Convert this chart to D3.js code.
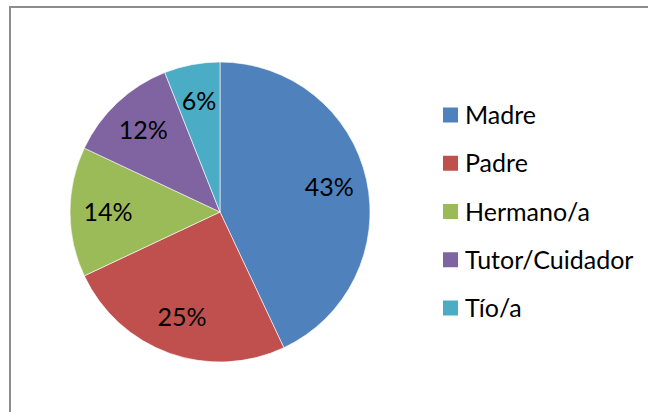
<!DOCTYPE html>
<html>
<head>
<meta charset="utf-8">
<script src="https://cdn.jsdelivr.net/npm/d3@7"></script>
<style>
  html, body { margin: 0; padding: 0; background: #fff; }
  svg { display: block; }
</style>
</head>
<body>
<div id="chart"></div>
<script>
// categories and shares (percent)
const categories = ["Madre", "Padre", "Hermano/a", "Tutor/Cuidador", "Tío/a"];
const shares = [43, 25, 14, 12, 6];
const colors = ["#4f81bd", "#c0504d", "#9bbb59", "#8064a2", "#4bacc6"];

const W = 648, H = 412;
const cx = 220, cy = 212, radius = 150;
const fontFamily = "Lato, 'Open Sans', sans-serif";

const svg = d3.select("#chart").append("svg")
  .attr("width", W)
  .attr("height", H);

// chart area frame
svg.append("rect")
  .attr("x", 10).attr("y", 7)
  .attr("width", W + 20).attr("height", H + 20)
  .attr("fill", "#fff")
  .attr("stroke", "#8c8c8c")
  .attr("stroke-width", 2);

const rows = categories.map((c, i) => ({ name: c, value: shares[i], color: colors[i] }));

const pie = d3.pie()
  .sort(null)
  .value(d => d.value);

const arc = d3.arc().innerRadius(0).outerRadius(radius);
const labelArc = d3.arc().innerRadius(112).outerRadius(112);

const g = svg.append("g")
  .attr("transform", `translate(${cx},${cy})`);

const arcs = pie(rows);

g.selectAll("path")
  .data(arcs)
  .enter().append("path")
  .attr("d", arc)
  .attr("fill", d => d.data.color)
  .attr("stroke", "#fff")
  .attr("stroke-width", 0.6);

g.selectAll("text.pct")
  .data(arcs)
  .enter().append("text")
  .attr("class", "pct")
  .attr("transform", d => {
    const [x, y] = labelArc.centroid(d);
    return `translate(${x},${y + 8.5})`;
  })
  .attr("text-anchor", "middle")
  .style("font-family", fontFamily)
  .style("font-size", "25px")
  .style("fill", "#000")
  .text(d => d.data.value + "%");

// legend
const legendY = d3.scalePoint()
  .domain(categories)
  .range([115, 308]);

const legend = svg.append("g");

const item = legend.selectAll("g")
  .data(rows)
  .enter().append("g")
  .attr("transform", d => `translate(443,${legendY(d.name)})`);

item.append("rect")
  .attr("x", 0).attr("y", -7.5)
  .attr("width", 15).attr("height", 15)
  .attr("fill", d => d.color);

item.append("text")
  .attr("x", 22)
  .attr("y", 9)
  .style("font-family", fontFamily)
  .style("font-size", "25px")
  .style("fill", "#000")
  .text(d => d.name);
</script>
</body>
</html>
